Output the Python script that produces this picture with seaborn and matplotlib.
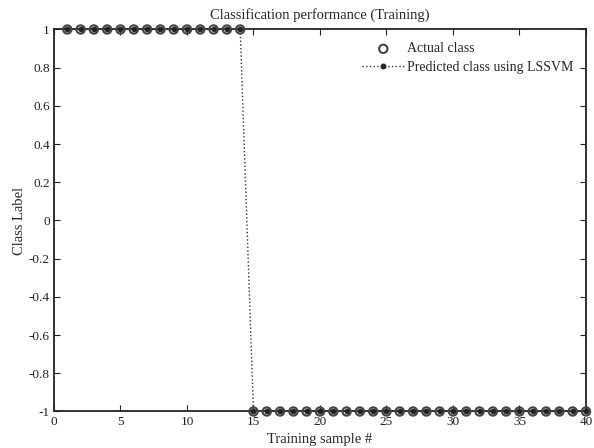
import numpy as np
import pandas as pd
import matplotlib
matplotlib.use("Agg")
import matplotlib.pyplot as plt
import seaborn as sns

# samples and labels
samples = list(range(1, 41))
actual_class = [1] * 14 + [-1] * 26
predicted_class = [1] * 14 + [-1] * 26

df = pd.DataFrame({"sample": samples, "actual": actual_class, "pred": predicted_class})

sns.set_style("ticks")
plt.rcParams["font.family"] = ["Liberation Serif", "DejaVu Serif"]

fig = plt.figure(figsize=(5.94, 4.48), dpi=100)
ax = fig.add_axes([0.0909, 0.0815, 0.8956, 0.8527])

sns.lineplot(data=df, x="sample", y="pred", ax=ax, color="#333333", linestyle=":",
             linewidth=1.0, marker="o", markersize=3.5, markeredgecolor="#222222",
             markerfacecolor="#222222", label="Predicted class using LSSVM", zorder=3,
             clip_on=False)
sns.scatterplot(data=df, x="sample", y="actual", ax=ax, s=36, facecolor="none",
                edgecolor="#444444", linewidth=1.5, label="Actual class", zorder=4,
                clip_on=False)

ax.set_xlim(0, 40)
ax.set_ylim(-1, 1)
ax.set_xticks(np.arange(0, 41, 5))
ax.set_yticks(np.arange(-1, 1.01, 0.2))
ax.set_yticklabels(["-1", "-0.8", "-0.6", "-0.4", "-0.2", "0", "0.2", "0.4", "0.6", "0.8", "1"])
ax.tick_params(direction="in", length=4, labelsize=9.5, colors="#222222", width=0.8, pad=3)
ax.tick_params(top=True, right=True)
for s in ax.spines.values():
    s.set_linewidth(1.3)
    s.set_color("#222222")
    s.set_zorder(2)

ax.set_title("Classification performance (Training)", fontsize=10.5, pad=8)
ax.set_xlabel("Training sample #", fontsize=10.5, labelpad=4)
ax.set_ylabel("Class Label", fontsize=10.5, labelpad=2)

handles, labels = ax.get_legend_handles_labels()
ax.legend(handles[::-1], labels[::-1], loc="upper right", frameon=False, fontsize=10,
          handlelength=3, borderaxespad=0.4, labelspacing=0.4, handletextpad=0.2,
          bbox_to_anchor=(0.997, 0.995))

fig.savefig("out.png", dpi=100)
